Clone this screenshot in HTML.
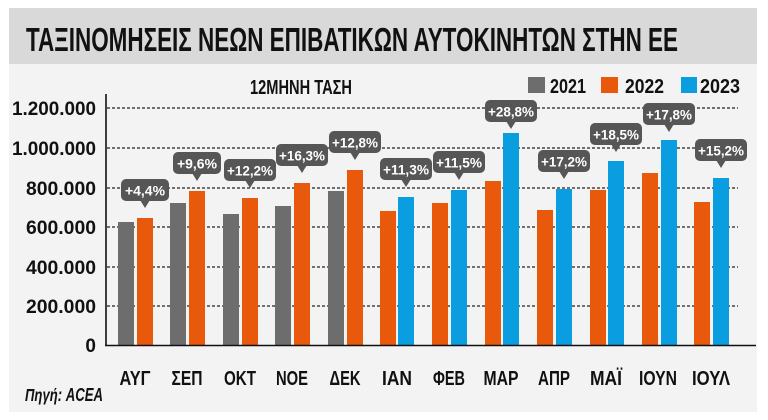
<!DOCTYPE html>
<html><head><meta charset="utf-8"><style>
html,body{margin:0;padding:0;background:#fff;}
svg{display:block;font-family:"Liberation Sans",sans-serif;}
</style></head><body>
<svg width="768" height="420" viewBox="0 0 768 420" xmlns="http://www.w3.org/2000/svg">
<rect x="9" y="8" width="748" height="404" fill="#f3f3f3"/>
<rect x="9" y="8" width="748" height="56" fill="#d9d9d9"/>
<text x="26" y="51" font-size="33" font-weight="bold" fill="#111" textLength="652" lengthAdjust="spacingAndGlyphs">ΤΑΞΙΝΟΜΗΣΕΙΣ ΝΕΩΝ ΕΠΙΒΑΤΙΚΩΝ ΑΥΤΟΚΙΝΗΤΩΝ ΣΤΗΝ ΕΕ</text>
<text x="250" y="94" font-size="20" font-weight="bold" fill="#111" textLength="102" lengthAdjust="spacingAndGlyphs">12ΜΗΝΗ ΤΑΣΗ</text>
<rect x="528" y="77" width="17" height="16" fill="#6d6d6d"/>
<text x="550" y="93" font-size="20" font-weight="bold" fill="#111" textLength="36" lengthAdjust="spacingAndGlyphs">2021</text>
<rect x="601" y="77" width="17" height="16" fill="#e8590c"/>
<text x="625" y="93" font-size="20" font-weight="bold" fill="#111" textLength="39" lengthAdjust="spacingAndGlyphs">2022</text>
<rect x="681" y="77" width="16" height="16" fill="#0a9ee0"/>
<text x="700" y="93" font-size="20" font-weight="bold" fill="#111" textLength="40" lengthAdjust="spacingAndGlyphs">2023</text>
<g stroke="#222" stroke-width="1.2" stroke-dasharray="3,2">
<line x1="107" y1="108" x2="738" y2="108"/>
<line x1="107" y1="148" x2="738" y2="148"/>
<line x1="107" y1="188" x2="738" y2="188"/>
<line x1="107" y1="227" x2="738" y2="227"/>
<line x1="107" y1="267" x2="738" y2="267"/>
<line x1="107" y1="306" x2="738" y2="306"/>
</g>
<g font-size="19" font-weight="bold" fill="#111" text-anchor="end">
<text x="96" y="115" textLength="84" lengthAdjust="spacingAndGlyphs">1.200.000</text>
<text x="96" y="155" textLength="84" lengthAdjust="spacingAndGlyphs">1.000.000</text>
<text x="96" y="195" textLength="70" lengthAdjust="spacingAndGlyphs">800.000</text>
<text x="96" y="234" textLength="70" lengthAdjust="spacingAndGlyphs">600.000</text>
<text x="96" y="274" textLength="70" lengthAdjust="spacingAndGlyphs">400.000</text>
<text x="96" y="313" textLength="70" lengthAdjust="spacingAndGlyphs">200.000</text>
<text x="96" y="352">0</text>
</g>
<g>
<rect x="118" y="222" width="16" height="123" fill="#6d6d6d"/><rect x="137" y="218" width="16" height="127" fill="#e8590c"/>
<rect x="170" y="203" width="16" height="142" fill="#6d6d6d"/><rect x="189" y="191" width="16" height="154" fill="#e8590c"/>
<rect x="223" y="214" width="16" height="131" fill="#6d6d6d"/><rect x="242" y="198" width="16" height="147" fill="#e8590c"/>
<rect x="275" y="206" width="16" height="139" fill="#6d6d6d"/><rect x="294" y="183" width="16" height="162" fill="#e8590c"/>
<rect x="328" y="191" width="16" height="154" fill="#6d6d6d"/><rect x="347" y="170" width="16" height="175" fill="#e8590c"/>
<rect x="380" y="211" width="16" height="134" fill="#e8590c"/><rect x="398" y="197" width="16" height="148" fill="#0a9ee0"/>
<rect x="432" y="203" width="16" height="142" fill="#e8590c"/><rect x="451" y="190" width="16" height="155" fill="#0a9ee0"/>
<rect x="485" y="181" width="16" height="164" fill="#e8590c"/><rect x="503" y="133" width="16" height="212" fill="#0a9ee0"/>
<rect x="537" y="210" width="16" height="135" fill="#e8590c"/><rect x="556" y="189" width="16" height="156" fill="#0a9ee0"/>
<rect x="590" y="190" width="16" height="155" fill="#e8590c"/><rect x="608" y="161" width="16" height="184" fill="#0a9ee0"/>
<rect x="642" y="173" width="16" height="172" fill="#e8590c"/><rect x="661" y="140" width="16" height="205" fill="#0a9ee0"/>
<rect x="694" y="202" width="16" height="143" fill="#e8590c"/><rect x="713" y="178" width="16" height="167" fill="#0a9ee0"/>
</g>
<line x1="106" y1="94" x2="106" y2="346" stroke="#111" stroke-width="1.6"/>
<line x1="105" y1="345.5" x2="756" y2="345.5" stroke="#111" stroke-width="1.6"/>
<g font-size="20" font-weight="bold" fill="#111" text-anchor="middle">
<text x="135" y="385" textLength="31" lengthAdjust="spacingAndGlyphs">ΑΥΓ</text>
<text x="187" y="385" textLength="31" lengthAdjust="spacingAndGlyphs">ΣΕΠ</text>
<text x="240" y="385" textLength="32" lengthAdjust="spacingAndGlyphs">ΟΚΤ</text>
<text x="292" y="385" textLength="32" lengthAdjust="spacingAndGlyphs">ΝΟΕ</text>
<text x="345" y="385" textLength="31" lengthAdjust="spacingAndGlyphs">ΔΕΚ</text>
<text x="397" y="385" textLength="30" lengthAdjust="spacingAndGlyphs">ΙΑΝ</text>
<text x="449" y="385" textLength="32" lengthAdjust="spacingAndGlyphs">ΦΕΒ</text>
<text x="501" y="385" textLength="35" lengthAdjust="spacingAndGlyphs">ΜΑΡ</text>
<text x="554" y="385" textLength="32" lengthAdjust="spacingAndGlyphs">ΑΠΡ</text>
<text x="606" y="385" textLength="32" lengthAdjust="spacingAndGlyphs">ΜΑΪ</text>
<text x="658" y="385" textLength="38" lengthAdjust="spacingAndGlyphs">ΙΟΥΝ</text>
<text x="711" y="385" textLength="38" lengthAdjust="spacingAndGlyphs">ΙΟΥΛ</text>
</g>
<text x="25" y="401" font-size="18" font-weight="bold" font-style="italic" fill="#111" textLength="78" lengthAdjust="spacingAndGlyphs">Πηγή: ACEA</text>
<g font-size="14" font-weight="bold" fill="#fff" text-anchor="middle">
<g transform="translate(145,210)"><rect x="-24" y="-31" width="48" height="22" rx="5" fill="#565656"/><path d="M-5,-10 L5,-10 L0,-2 Z" fill="#565656"/><text y="-14.5" textLength="40" lengthAdjust="spacingAndGlyphs">+4,4%</text></g>
<g transform="translate(197,183)"><rect x="-24" y="-31" width="48" height="22" rx="5" fill="#565656"/><path d="M-5,-10 L5,-10 L0,-2 Z" fill="#565656"/><text y="-14.5" textLength="40" lengthAdjust="spacingAndGlyphs">+9,6%</text></g>
<g transform="translate(250,190)"><rect x="-26" y="-31" width="52" height="22" rx="5" fill="#565656"/><path d="M-5,-10 L5,-10 L0,-2 Z" fill="#565656"/><text y="-14.5" textLength="46" lengthAdjust="spacingAndGlyphs">+12,2%</text></g>
<g transform="translate(302,175)"><rect x="-26" y="-31" width="52" height="22" rx="5" fill="#565656"/><path d="M-5,-10 L5,-10 L0,-2 Z" fill="#565656"/><text y="-14.5" textLength="46" lengthAdjust="spacingAndGlyphs">+16,3%</text></g>
<g transform="translate(355,162)"><rect x="-26" y="-31" width="52" height="22" rx="5" fill="#565656"/><path d="M-5,-10 L5,-10 L0,-2 Z" fill="#565656"/><text y="-14.5" textLength="46" lengthAdjust="spacingAndGlyphs">+12,8%</text></g>
<g transform="translate(406,189)"><rect x="-26" y="-31" width="52" height="22" rx="5" fill="#565656"/><path d="M-5,-10 L5,-10 L0,-2 Z" fill="#565656"/><text y="-14.5" textLength="46" lengthAdjust="spacingAndGlyphs">+11,3%</text></g>
<g transform="translate(459,182)"><rect x="-26" y="-31" width="52" height="22" rx="5" fill="#565656"/><path d="M-5,-10 L5,-10 L0,-2 Z" fill="#565656"/><text y="-14.5" textLength="46" lengthAdjust="spacingAndGlyphs">+11,5%</text></g>
<g transform="translate(511,131)"><rect x="-26" y="-31" width="52" height="22" rx="5" fill="#565656"/><path d="M-5,-10 L5,-10 L0,-2 Z" fill="#565656"/><text y="-14.5" textLength="46" lengthAdjust="spacingAndGlyphs">+28,8%</text></g>
<g transform="translate(564,181)"><rect x="-26" y="-31" width="52" height="22" rx="5" fill="#565656"/><path d="M-5,-10 L5,-10 L0,-2 Z" fill="#565656"/><text y="-14.5" textLength="46" lengthAdjust="spacingAndGlyphs">+17,2%</text></g>
<g transform="translate(616,154)"><rect x="-26" y="-31" width="52" height="22" rx="5" fill="#565656"/><path d="M-5,-10 L5,-10 L0,-2 Z" fill="#565656"/><text y="-14.5" textLength="46" lengthAdjust="spacingAndGlyphs">+18,5%</text></g>
<g transform="translate(669,134)"><rect x="-26" y="-31" width="52" height="22" rx="5" fill="#565656"/><path d="M-5,-10 L5,-10 L0,-2 Z" fill="#565656"/><text y="-14.5" textLength="46" lengthAdjust="spacingAndGlyphs">+17,8%</text></g>
<g transform="translate(721,170)"><rect x="-26" y="-31" width="52" height="22" rx="5" fill="#565656"/><path d="M-5,-10 L5,-10 L0,-2 Z" fill="#565656"/><text y="-14.5" textLength="46" lengthAdjust="spacingAndGlyphs">+15,2%</text></g>
</g>
</svg>
</body></html>
